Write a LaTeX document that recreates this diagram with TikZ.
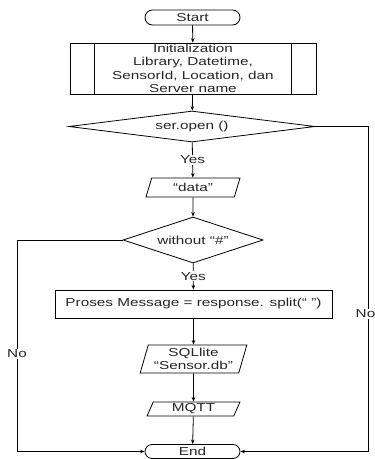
\documentclass[tikz,border=0pt]{standalone}
\usepackage{fontspec}
\setmainfont[FakeStretch=1.33]{Liberation Sans}
\usetikzlibrary{shapes.geometric,shapes.misc,arrows.meta}
\begin{document}
\begin{tikzpicture}[x=1pt,y=-1pt, line width=0.8pt,
 >={Stealth[length=4.5pt,width=3.5pt]},
 every node/.style={font=\fontsize{11.5}{13.3}\selectfont, text=black!85},
 term/.style={draw, rounded rectangle, minimum width=95pt, minimum height=15pt, inner sep=0pt},
 procbox/.style={draw, rectangle, inner sep=0pt},
 iobox/.style={draw, trapezium, trapezium left angle=72, trapezium right angle=108, trapezium stretches=true, inner sep=0pt},
 decision/.style={draw, diamond, inner sep=0pt},
 lbl/.style={fill=white, inner sep=1pt}]
\useasboundingbox (0,0) rectangle (375,459);
\node[term] (start) at (192.5,17.5) {Start};
\node[procbox, minimum width=246pt, minimum height=51pt, align=center] (init) at (193,68.5) {Initialization\\Library, Datetime,\\SensorId, Location, dan\\Server name};
\draw ([xshift=25pt]init.north west) -- ([xshift=25pt]init.south west);
\draw ([xshift=-25pt]init.north east) -- ([xshift=-25pt]init.south east);
\node[decision, minimum width=246pt, minimum height=31pt, aspect=7.9] (d1) at (192,126.5) {ser.open ()};
\node[iobox, minimum width=94pt, minimum height=19pt] (data) at (193,187.5) {“data”};
\node[decision, minimum width=140pt, minimum height=46pt, aspect=3] (d2) at (193,240) {without “\#”};
\node[procbox, minimum width=277pt, minimum height=28pt] (proc) at (193.5,304) {Proses Message = response. split(“ ”)};
\node[iobox, minimum width=107pt, minimum height=28pt, align=center] (sql) at (193.5,359) {SQLlite\\“Sensor.db”};
\node[iobox, minimum width=93pt, minimum height=14pt] (mqtt) at (193.5,409) {MQTT};
\node[term, minimum height=14pt] (end) at (192.5,451.5) {End};
\coordinate (lc) at (17,451.5);
\coordinate (rc) at (368,451.5);
\draw[->] (start) -- (init);
\draw[->] (init) -- (d1);
\draw[->] (d1) -- node[lbl] (yes1) {Yes} (data);
\draw[->] (data) -- (d2);
\draw[->] (d2) -- node[lbl] (yes2) {Yes} (proc);
\draw[->] (proc) -- (sql);
\draw[->] (sql) -- (mqtt);
\draw[->] (mqtt) -- (end);
\draw[->] (d2.west) -| (lc) -- (end.west);
\draw[->] (d1.east) -| (rc) -- (end.east);
\node[lbl] (nol) at (17,354) {No};
\node[lbl] (nor) at (365.5,314) {No};
\end{tikzpicture}
\end{document}
